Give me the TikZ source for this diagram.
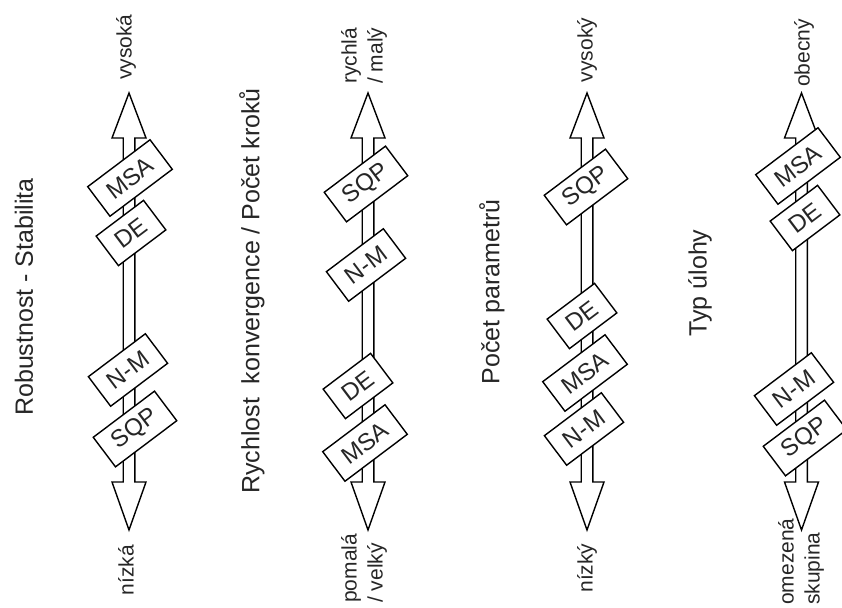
\documentclass[tikz,border=0pt]{standalone}
\usepackage{fontspec}
\setmainfont{Liberation Sans}
\begin{document}
\begin{tikzpicture}[x=1pt,y=-1pt,
  algbox/.style={draw, fill=white, line width=1.4pt, rotate=37, minimum height=37pt,
    inner xsep=13pt, inner ysep=0pt, text=black!85, font=\fontsize{24}{24}\selectfont},
  title/.style={rotate=90, text=black!85, font=\fontsize{25}{29}\selectfont},
  endlabel/.style={rotate=90, text=black!85, font=\fontsize{21}{25}\selectfont, inner sep=0pt},
  duallabel/.style={rotate=90, anchor=west, align=left, text=black!85,
    font=\fontsize{21}{26}\selectfont, inner sep=0pt},
  blockarrow/.style={draw, fill=white, line width=1.4pt, line join=miter}]
\useasboundingbox (0,0) rectangle (842,607);
\clip (0,0) rectangle (842,607);
\fill[white] (0,0) rectangle (842,607);

% block arrows (double headed)
\foreach \c/\n in {129/a, 368/b, 587/c, 801.5/d}{
  \coordinate (\n top) at (\c,93);
  \coordinate (\n bot) at (\c,530);
  \draw[blockarrow] (\n top) -- (\c+17,138) -- (\c+5.8,138) -- (\c+5.8,482) -- (\c+17,482)
    -- (\n bot) -- (\c-17,482) -- (\c-5.8,482) -- (\c-5.8,138) -- (\c-17,138) -- cycle;
}

% titles
\node[title] (t1) at (24,297) {Robustnost - Stabilita};
\node[title] (t2) at (252,291) {Rychlost\ \ konvergence / Počet kroků};
\node[title] (t3) at (492,292) {Počet parametrů};
\node[title] (t4) at (700,283) {Typ úlohy};

% axis 1
\node[endlabel] (a1) at (126,47) {vysoká};
\node[endlabel] (a2) at (126,570) {nízká};
\node[algbox] (a3) at (130,178) {MSA};
\node[algbox] (a4) at (131,233) {DE};
\node[algbox] (a5) at (128,370) {N-M};
\node[algbox] (a6) at (135,429) {SQP};

% axis 2
\node[duallabel] (b1) at (364,84) {rychlá\\/ malý};
\node[duallabel] (b2) at (364,603) {pomalá\\/ velký};
\node[algbox] (b3) at (366,184) {SQP};
\node[algbox] (b4) at (366,265) {N-M};
\node[algbox] (b5) at (358,386) {DE};
\node[algbox] (b6) at (365,443) {MSA};

% axis 3
\node[endlabel] (c1) at (587,50) {vysoký};
\node[endlabel] (c2) at (587,568) {nízký};
\node[algbox] (c3) at (586,187) {SQP};
\node[algbox] (c4) at (582,316) {DE};
\node[algbox] (c5) at (585,373) {MSA};
\node[algbox] (c6) at (584,429) {N-M};

% axis 4
\node[endlabel] (d1) at (804,53) {obecný};
\node[duallabel] (d2) at (801,605) {omezená\\skupina};
\node[algbox] (d3) at (798,166) {MSA};
\node[algbox] (d4) at (805,218) {DE};
\node[algbox] (d5) at (794,389) {N-M};
\node[algbox] (d6) at (805,438) {SQP};
\end{tikzpicture}
\end{document}
